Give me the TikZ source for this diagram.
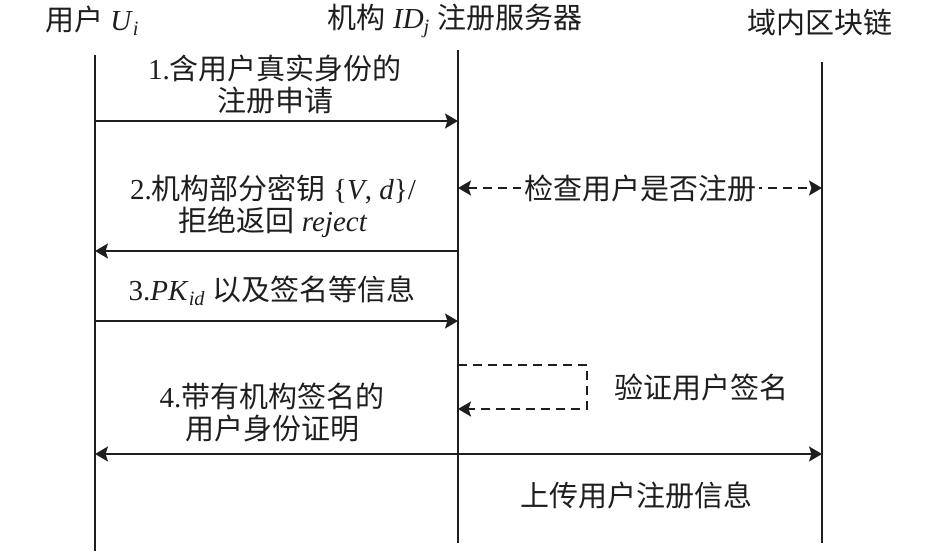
\documentclass[tikz,border=0pt]{standalone}
\usepackage{fontspec}
\setmainfont{Liberation Serif}
\newfontfamily\cjk{Noto Sans CJK SC}
\usetikzlibrary{arrows.meta}
\definecolor{ink}{HTML}{1E1E1E}
\newcommand\isub[1]{\textsubscript{\itshape #1}}
\begin{document}
\begin{tikzpicture}[x=1pt,y=-1pt,
  font=\fontsize{29}{32}\selectfont, text=ink,
  life/.style={line width=1.9pt, draw=ink},
  msg/.style={line width=1.9pt, draw=ink, -{Stealth[length=13pt,width=15pt,inset=2.5pt]}},
  bimsg/.style={line width=1.9pt, draw=ink, {Stealth[length=13pt,width=15pt,inset=2.5pt]}-{Stealth[length=13pt,width=15pt,inset=2.5pt]}},
  dsh/.style={dash pattern=on 9pt off 6pt},
  lbl/.style={inner sep=0pt, align=center},
  head/.style={inner sep=0pt, anchor=center}]
\useasboundingbox (0,0) rectangle (945,556);

% headers
\node[head] (hU) at (92,21) {{\cjk 用户} \textit{U}\isub{i}};
\node[head] (hS) at (455,21) {{\cjk 机构} \textit{ID}\isub{j} {\cjk 注册服务器}};
\node[head] (hB) at (820,22) {\cjk 域内区块链};

% lifelines
\coordinate (Ut) at (95,55);  \coordinate (Ub) at (95,551);
\coordinate (St) at (458,50); \coordinate (Sb) at (458,543);
\coordinate (Bt) at (822,62); \coordinate (Bb) at (822,543);
\draw[life] (Ut) -- (Ub);
\draw[life] (St) -- (Sb);
\draw[life] (Bt) -- (Bb);

% message 1
\coordinate (u1) at (95,121); \coordinate (s1) at (458,121);
\draw[msg] (u1) -- (s1);
\node[lbl] (m1) at (275,84) {1.{\cjk 含用户真实身份的}\\{\cjk 注册申请}};

% check registration
\coordinate (s2) at (458,188); \coordinate (b2) at (822,188);
\draw[bimsg, dsh] (s2) -- (b2);
\node[lbl, fill=white, inner xsep=3pt, inner ysep=4pt] (chk) at (640,188) {\cjk 检查用户是否注册};

% message 2
\coordinate (s3) at (458,251); \coordinate (u3) at (95,251);
\draw[msg] (s3) -- (u3);
\node[lbl] (m2) at (273,206) {2.{\cjk 机构部分密钥} \{\textit{V}, \textit{d}\}/\\{\cjk 拒绝返回} \textit{reject}};

% message 3
\coordinate (u5) at (95,321); \coordinate (s5) at (458,321);
\draw[msg] (u5) -- (s5);
\node[lbl] (m3) at (272,291) {3.\textit{PK}\isub{id} {\cjk 以及签名等信息}};

% self verification loop
\coordinate (s6a) at (458,365); \coordinate (loopR) at (587,365); \coordinate (s6b) at (458,409);
\draw[msg, dsh] (s6a) -- (loopR) |- (s6b);
\node[lbl] (ver) at (701,387) {\cjk 验证用户签名};

% message 4 and upload
\coordinate (u7) at (95,454); \coordinate (b7) at (822,454);
\draw[bimsg] (u7) -- (b7);
\node[lbl] (m4) at (272,413) {4.{\cjk 带有机构签名的}\\{\cjk 用户身份证明}};
\node[lbl] (up) at (636,495) {\cjk 上传用户注册信息};
\end{tikzpicture}
\end{document}
